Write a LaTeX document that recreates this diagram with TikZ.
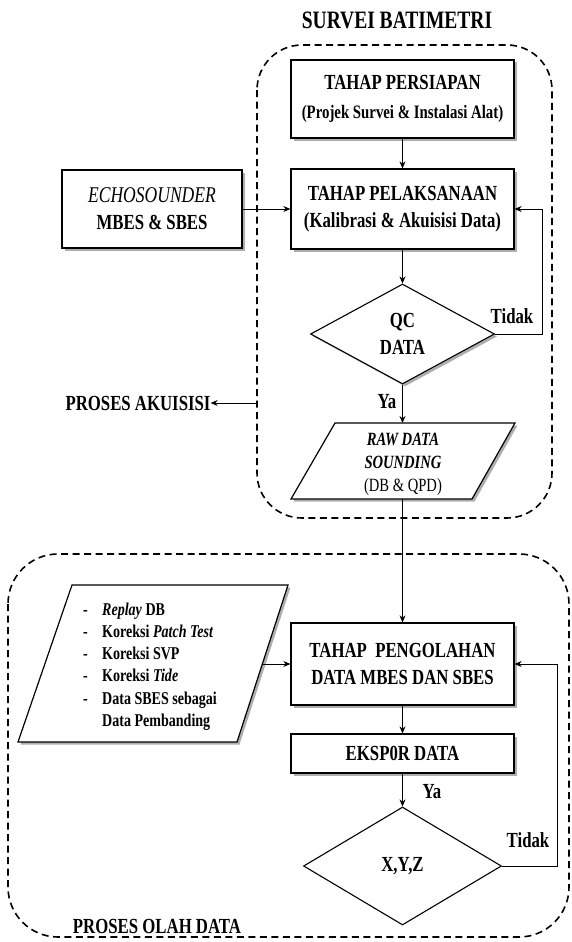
\documentclass[tikz,border=0pt]{standalone}
\usepackage{fontspec}
\setmainfont{Liberation Serif}[FakeStretch=0.78]
\usetikzlibrary{shapes.geometric,shadows,arrows.meta}
\newcommand\ftitle{\fontsize{25}{28}\selectfont\bfseries}
\newcommand\fhead{\fontsize{21.5}{27}\selectfont\bfseries}
\newcommand\fsubsm{\fontsize{19}{22}\selectfont\bfseries}
\newcommand\fraw{\fontsize{18.7}{23}\selectfont}
\newcommand\flist{\fontsize{18}{22.2}\selectfont\bfseries}
\tikzset{
  shade3/.style={drop shadow={shadow xshift=2.5pt, shadow yshift=-2.5pt, fill=black!45, opacity=0.7}},
  boxnode/.style={draw, line width=1.3pt, fill=white, minimum width=223pt, inner sep=2pt, align=center, font=\fhead, shade3},
  decision/.style={draw, shape=diamond, line width=1.1pt, fill=white, inner sep=0pt, align=center, font=\fhead},
  arr/.style={-{Stealth[length=7pt,width=6pt]}, line width=0.8pt},
  grpbox/.style={line width=1.6pt, dash pattern=on 7pt off 4.5pt},
  para/.style={draw, line width=1.2pt, fill=white, shade3},
  lbl/.style={font=\fhead, inner sep=0pt}
}
\begin{document}
\begin{tikzpicture}[x=1pt,y=-1pt]
\fill[white] (0,0) rectangle (571,942);
\useasboundingbox (0,0) rectangle (571,942);

% group frames
\draw[grpbox, rounded corners=45pt] (257,45) rectangle (552,518);
\draw[grpbox, rounded corners=50pt] (8,554) rectangle (569,937);

% title and group labels
\node[font=\ftitle, inner sep=0pt] (title) at (397,20) {SURVEI BATIMETRI};
\node[lbl] (akuisisi) at (138,403) {PROSES AKUISISI};
\node[lbl] (olah) at (157,926) {PROSES OLAH DATA};

% acquisition part
\node[boxnode, minimum height=78pt] (persiapan) at (402.5,99)
  {TAHAP PERSIAPAN\\[2pt]{\fsubsm (Projek Survei \& Instalasi Alat)}};
\node[boxnode, minimum height=80pt] (pelaksanaan) at (402.5,209)
  {TAHAP PELAKSANAAN\\(Kalibrasi \& Akuisisi Data)};
\node[boxnode, minimum width=180pt, minimum height=78pt] (echo) at (152,209)
  {{\fontsize{22.5}{27}\selectfont\mdseries\itshape ECHOSOUNDER}\\MBES \& SBES};
\node[decision, minimum width=184pt, minimum height=100pt, shade3] (qc) at (402.5,334)
  {\fontsize{21.5}{26}\selectfont QC\\DATA};

% raw data parallelogram
\coordinate (rawA) at (335,423);
\coordinate (rawB) at (515,423);
\coordinate (rawC) at (472,499);
\coordinate (rawD) at (291,499);
\coordinate (rawN) at (402.5,423);
\coordinate (rawS) at (402.5,499);
\draw[para] (rawA) -- (rawB) -- (rawC) -- (rawD) -- cycle;
\node[font=\fraw, align=center, inner sep=0pt] (raw) at (403,464)
  {\textbf{\textit{RAW DATA}}\\\textbf{\textit{SOUNDING}}\\(DB \& QPD)};

% processing part
\coordinate (inA) at (72,585);
\coordinate (inB) at (288,585);
\coordinate (inC) at (237,742);
\coordinate (inD) at (18,742);
\coordinate (inR) at (261.5,664);
\draw[para] (inA) -- (inB) -- (inC) -- (inD) -- cycle;
\node[font=\flist, align=left, anchor=west, inner sep=0pt] (inlist) at (83,666.5)
  {\makebox[19pt][l]{-}\textit{Replay} DB\\
   \makebox[19pt][l]{-}Koreksi \textit{Patch Test}\\
   \makebox[19pt][l]{-}Koreksi SVP\\
   \makebox[19pt][l]{-}Koreksi \textit{Tide}\\
   \makebox[19pt][l]{-}Data SBES sebagai\\
   \makebox[19pt][l]{}Data Pembanding};

\node[boxnode, minimum height=82pt] (pengolahan) at (402.5,664)
  {TAHAP\ \ PENGOLAHAN\\DATA MBES DAN SBES};
\node[boxnode, minimum height=39pt] (ekspor) at (402.5,753.5) {EKSP0R DATA};
\node[decision, minimum width=198pt, minimum height=118pt] (xyz) at (402.5,866) {X,Y,Z};

% connectors
\draw[arr] (persiapan) -- (pelaksanaan);
\draw[arr] (echo) -- (pelaksanaan);
\draw[arr] (pelaksanaan) -- (qc);
\draw[arr] (qc.east) -- ++(47,0) |- (pelaksanaan.east);
\node[lbl] (tidak1) at (512,316) {Tidak};
\draw[arr] (qc.south) -- (rawN);
\node[lbl] (ya1) at (387,402) {Ya};
\coordinate (akuL) at (257,403);
\draw[arr] (akuL) -- (akuisisi.east);
\draw[arr] (rawS) -- (pengolahan.north);
\draw[arr] (inR) -- (pengolahan.west);
\draw[arr] (pengolahan) -- (ekspor);
\draw[arr] (ekspor) -- (xyz);
\node[lbl] (ya2) at (432,792) {Ya};
\draw[arr] (xyz.east) -- ++(55,0) |- (pengolahan.east);
\node[lbl] (tidak2) at (528,840) {Tidak};
\end{tikzpicture}
\end{document}
